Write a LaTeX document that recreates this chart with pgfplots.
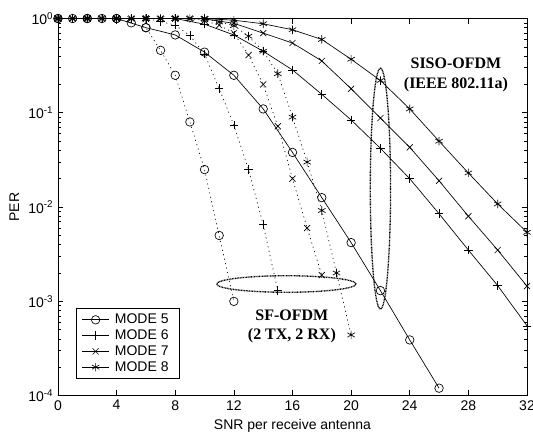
\documentclass[border=0pt]{standalone}
\usepackage{fontspec}
\setmainfont{Liberation Sans}
\newfontfamily\serifbf{Liberation Serif}
\usepackage{pgfplots}
\pgfplotsset{compat=1.18}

\begin{document}
\begin{tikzpicture}
\begin{axis}[
  scale only axis, width=352pt, height=283pt,
  ymode=log, xmin=0, xmax=32, ymin=1e-4, ymax=1,
  xtick={0,4,...,32},
  ytick={1e-4,1e-3,1e-2,1e-1,1},
  yticklabels={10\textsuperscript{-4},10\textsuperscript{-3},10\textsuperscript{-2},10\textsuperscript{-1},10\textsuperscript{0}},
  minor ytick={2e-4,3e-4,4e-4,5e-4,6e-4,7e-4,8e-4,9e-4,2e-3,3e-3,4e-3,5e-3,6e-3,7e-3,8e-3,9e-3,2e-2,3e-2,4e-2,5e-2,6e-2,7e-2,8e-2,9e-2,0.2,0.3,0.4,0.5,0.6,0.7,0.8,0.9},
  /pgf/number format/assume math mode=true,
  tick label style={font=\fontsize{10.5}{12}\selectfont},
  label style={font=\fontsize{10.5}{12}\selectfont},
  xlabel={SNR per receive antenna}, ylabel={PER},
  clip=false,
  legend style={at={(0.0384,0.045)}, anchor=south west, font=\fontsize{10.5}{13}\selectfont, draw=black, line width=0.5pt, inner xsep=4pt, inner ysep=2pt, row sep=-1pt, nodes={inner xsep=4pt}},
  legend image code/.code={\draw[mark repeat=2,mark phase=2,#1] plot coordinates {(0cm,0cm) (0.36cm,0cm) (0.72cm,0cm)};},
  legend cell align=left,
  every axis plot/.append style={black, line width=0.5pt, mark size=3.2pt},
  axis line style={line width=0.5pt},
  tick style={black, line width=0.5pt},
  major tick length=4pt, minor tick length=2pt,
]
% SISO-OFDM (solid)
\addplot[mark=o] coordinates {(0,1)(2,1)(4,1)(6,0.8)(8,0.67)(10,0.44)(12,0.25)(14,0.11)(16,0.038)(18,0.0126)(20,0.0042)(22,0.0013)(24,3.9e-4)(26,1.2e-4)};
\addlegendentry{MODE 5}
\addplot[mark=+] coordinates {(0,1)(2,1)(4,1)(6,1)(8,1)(10,0.87)(12,0.67)(14,0.45)(16,0.285)(18,0.157)(20,0.084)(22,0.042)(24,0.02)(26,0.0085)(28,0.0035)(30,0.00147)(32,5.5e-4)};
\addlegendentry{MODE 6}
\addplot[mark=x] coordinates {(0,1)(2,1)(4,1)(6,1)(8,1)(10,0.99)(12,0.89)(14,0.7)(16,0.55)(18,0.355)(20,0.18)(22,0.088)(24,0.043)(26,0.019)(28,0.008)(30,0.0035)(32,0.00145)};
\addlegendentry{MODE 7}
\addplot[mark=asterisk] coordinates {(0,1)(2,1)(4,1)(6,1)(8,1)(10,1)(12,0.96)(14,0.88)(16,0.76)(18,0.6)(20,0.37)(22,0.22)(24,0.11)(26,0.05)(28,0.023)(30,0.0108)(32,0.0054)};
\addlegendentry{MODE 8}
% SF-OFDM (dotted)
\addplot[mark=o, dash pattern=on 0.8pt off 2.6pt, mark options={solid}, forget plot] coordinates {(0,1)(1,1)(2,1)(3,1)(4,1)(5,0.9)(6,0.8)(7,0.46)(8,0.25)(9,0.08)(10,0.025)(11,0.005)(12,0.001)};
\addplot[mark=+, dash pattern=on 0.8pt off 2.6pt, mark options={solid}, forget plot] coordinates {(0,1)(1,1)(2,1)(3,1)(4,1)(5,1)(6,1)(7,0.93)(8,0.85)(9,0.66)(10,0.42)(11,0.18)(12,0.074)(13,0.025)(14,0.0065)(15,0.0013)};
\addplot[mark=x, dash pattern=on 0.8pt off 2.6pt, mark options={solid}, forget plot] coordinates {(0,1)(1,1)(2,1)(3,1)(4,1)(5,1)(6,1)(7,1)(8,1)(9,1)(10,0.95)(11,0.85)(12,0.7)(13,0.41)(14,0.2)(15,0.072)(16,0.02)(17,0.006)(18,0.0019)};
\addplot[mark=asterisk, dash pattern=on 0.8pt off 2.6pt, mark options={solid}, forget plot] coordinates {(0,1)(1,1)(2,1)(3,1)(4,1)(5,1)(6,1)(7,1)(8,1)(9,1)(10,1)(11,0.92)(12,0.84)(13,0.65)(14,0.45)(15,0.26)(16,0.09)(17,0.03)(18,0.0092)(19,0.002)(20,4.4e-4)};
% ellipses
\draw[black, line width=1pt, dash pattern=on 0.7pt off 0.5pt] (axis cs:15.58,0.001528) ellipse [x radius=52.3pt, y radius=6.2pt];
\draw[black, line width=1pt, dash pattern=on 0.7pt off 0.5pt] (axis cs:22,0.0157) ellipse [x radius=7.6pt, y radius=90.4pt];
% annotations
\node[font=\serifbf\bfseries\fontsize{12}{15}\selectfont, align=center] at (axis cs:27.15,0.25) {SISO-OFDM\\(IEEE 802.11a)};
\node[font=\serifbf\bfseries\fontsize{12}{14}\selectfont, align=center] at (axis cs:15.96,5.4e-4) {SF-OFDM\\(2 TX, 2 RX)};
\coordinate (bl) at (rel axis cs:0,0);
\coordinate (tr) at (rel axis cs:1,1);
\end{axis}
\pgfresetboundingbox
\path[use as bounding box] ([shift={(-43.5pt,-32.25pt)}]bl) rectangle ([shift={(4.5pt,13.9pt)}]tr);
\end{tikzpicture}
\end{document}
